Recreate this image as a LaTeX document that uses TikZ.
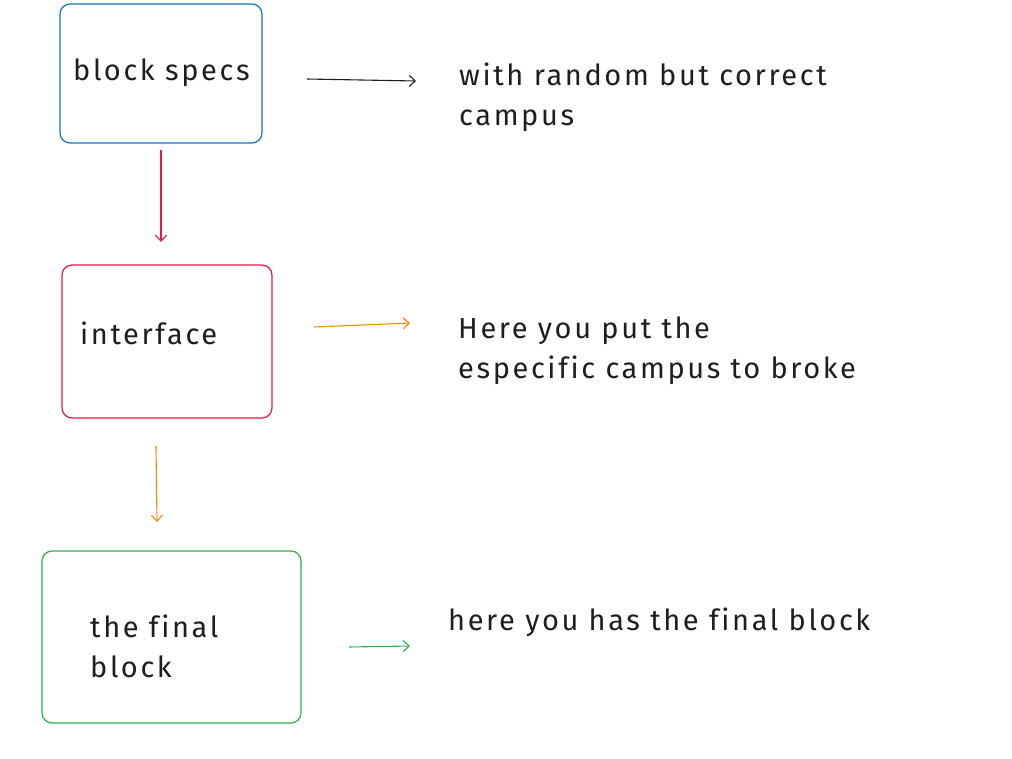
\documentclass[tikz,border=0pt]{standalone}
\usepackage{fontspec}
\setmainfont{Fira Sans}[LetterSpace=9,Ligatures=NoCommon]
\usetikzlibrary{arrows.meta}
\definecolor{inkblack}{HTML}{1E1E1E}
\definecolor{skyblue}{HTML}{1971C2}
\definecolor{rosered}{HTML}{E6194B}
\definecolor{amber}{HTML}{F08C00}
\definecolor{leafgreen}{HTML}{2FB050}
\tikzset{
  card/.style={draw=#1, line width=1.2pt, rounded corners=10pt, fill=white},
  label/.style={anchor=west, inner sep=0pt, text=inkblack, font=\fontsize{29}{40}\selectfont, align=left},
  flow/.style={draw=#1, line width=1.1pt, -{Straight Barb[length=6pt,width=11pt]}},
}
\begin{document}
\begin{tikzpicture}[x=1pt,y=-1pt]
\useasboundingbox (0,0) rectangle (1012,758);

% boxes
\draw[card=skyblue] (60,4) rectangle (262,143);
\draw[card=rosered] (62,265) rectangle (272,418);
\draw[card=leafgreen] (42,551) rectangle (301,723);

% box captions
\node[label] (spec) at (73,73) {block specs};
\node[label] (iface) at (80,333) {interface};
\node[label] (final) at (90,646) {the final\\block};

% explanatory notes
\node[label] (n1) at (459,97) {with random but correct\\campus};
\node[label] (n2) at (458,351) {Here you put the\\especific campus to broke};
\node[label] (n3) at (448,622) {here you has the final block};

% connector end points
\coordinate (a1s) at (307,79);  \coordinate (a1e) at (416,81);
\coordinate (a2s) at (161,150); \coordinate (a2e) at (161,242);
\coordinate (a3s) at (314,327); \coordinate (a3e) at (410,323);
\coordinate (a4s) at (156,446); \coordinate (a4e) at (157,522);
\coordinate (a5s) at (349,647); \coordinate (a5e) at (410,646);

\draw[flow=inkblack] (a1s) -- (a1e);
\draw[flow=rosered] (a2s) -- (a2e);
\draw[flow=amber] (a3s) -- (a3e);
\draw[flow=amber] (a4s) -- (a4e);
\draw[flow=leafgreen] (a5s) -- (a5e);
\end{tikzpicture}
\end{document}
